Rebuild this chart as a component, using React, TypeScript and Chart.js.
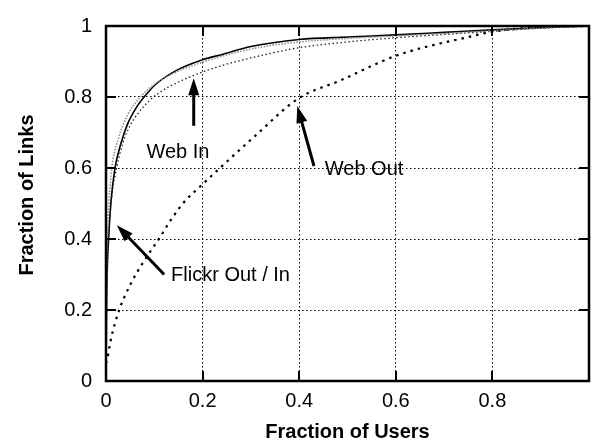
import React, { useEffect, useRef } from "react";
import { Chart, registerables } from "chart.js";

Chart.register(...registerables);

// ---- data ----
const flickrOutX = [0, 0.001, 0.003, 0.005, 0.01, 0.018, 0.03, 0.045, 0.065, 0.085, 0.105, 0.146, 0.2, 0.241, 0.3, 0.4, 0.5, 0.6, 0.7, 0.8, 0.9, 1];
const flickrOutY = [0, 0.2, 0.33, 0.39, 0.5, 0.595, 0.665, 0.725, 0.775, 0.81, 0.838, 0.875, 0.905, 0.92, 0.942, 0.962, 0.969, 0.975, 0.982, 0.989, 0.995, 1];

const flickrInX = [0, 0.001, 0.003, 0.006, 0.012, 0.025, 0.045, 0.065, 0.09, 0.13, 0.2, 0.3, 0.4, 0.5, 0.6, 0.7, 0.8, 0.9, 1];
const flickrInY = [0, 0.25, 0.4, 0.5, 0.6, 0.68, 0.75, 0.79, 0.825, 0.86, 0.898, 0.935, 0.955, 0.965, 0.972, 0.979, 0.987, 0.994, 1];

const webInX = [0, 0.002, 0.006, 0.012, 0.022, 0.035, 0.05, 0.07, 0.09, 0.11, 0.132, 0.18, 0.241, 0.3, 0.4, 0.5, 0.6, 0.7, 0.8, 0.9, 1];
const webInY = [0, 0.28, 0.42, 0.52, 0.6, 0.67, 0.72, 0.76, 0.79, 0.812, 0.83, 0.86, 0.889, 0.91, 0.939, 0.955, 0.967, 0.976, 0.985, 0.994, 1];

const webOutX = [0, 0.003, 0.0096, 0.0265, 0.0537, 0.0912, 0.108, 0.135, 0.161, 0.195, 0.236, 0.3076, 0.3994, 0.4843, 0.6, 0.7565, 0.8, 0.9, 1];
const webOutY = [0.05, 0.064, 0.114, 0.197, 0.28, 0.364, 0.397, 0.455, 0.503, 0.548, 0.6, 0.689, 0.797, 0.846, 0.916, 0.971, 0.984, 0.997, 1];

const xTickValues = [0, 0.2, 0.4, 0.6, 0.8];
const yTickValues = [0, 0.2, 0.4, 0.6, 0.8, 1];

const xTitle = "Fraction of Users";
const yTitle = "Fraction of Links";

const annotationLabels = ["Web In", "Web Out", "Flickr Out / In"];
const labelX = [0.0837, 0.453, 0.1347];
const labelY = [0.628, 0.5806, 0.2806];
const arrowFromX = [0.1816, 0.4306, 0.1204];
const arrowFromY = [0.719, 0.6056, 0.3];
const arrowToX = [0.1816, 0.396, 0.0224];
const arrowToY = [0.853, 0.775, 0.439];

const FONT = "'Liberation Sans', Arial, Helvetica, sans-serif";

const toPoints = (xs: number[], ys: number[]) => xs.map((x, i) => ({ x, y: ys[i] }));

const fmt = (v: number) => {
  const r = Math.round(v * 10) / 10;
  return String(r);
};

const framePlugin = {
  id: "gnuplotFrame",
  afterDatasetsDraw(chart: any) {
    const { ctx, chartArea, scales } = chart;
    const { left, right, top, bottom } = chartArea;
    ctx.save();
    ctx.strokeStyle = "#000";
    ctx.lineWidth = 2;
    const tl = 10;
    ctx.beginPath();
    xTickValues.forEach((v) => {
      if (v <= 0) return;
      const px = Math.round(scales.x.getPixelForValue(v));
      ctx.moveTo(px, bottom);
      ctx.lineTo(px, bottom - tl);
      ctx.moveTo(px, top);
      ctx.lineTo(px, top + tl);
    });
    yTickValues.forEach((v) => {
      if (v <= 0 || v >= 1) return;
      const py = Math.round(scales.y.getPixelForValue(v));
      ctx.moveTo(left, py);
      ctx.lineTo(left + tl, py);
      ctx.moveTo(right, py);
      ctx.lineTo(right - tl, py);
    });
    ctx.stroke();
    ctx.lineWidth = 2.5;
    ctx.strokeRect(left, top, right - left, bottom - top);
    ctx.restore();
  },
};

const annotationPlugin = {
  id: "arrowsAndTitles",
  afterDraw(chart: any) {
    const { ctx, chartArea, scales } = chart;
    const xs = scales.x;
    const ys = scales.y;
    ctx.save();
    ctx.fillStyle = "#000";
    ctx.strokeStyle = "#000";
    // arrows
    for (let i = 0; i < arrowFromX.length; i++) {
      const x1 = xs.getPixelForValue(arrowFromX[i]);
      const y1 = ys.getPixelForValue(arrowFromY[i]);
      const x2 = xs.getPixelForValue(arrowToX[i]);
      const y2 = ys.getPixelForValue(arrowToY[i]);
      const ang = Math.atan2(y2 - y1, x2 - x1);
      const headLen = 17;
      const headHalf = 5.5;
      const bx = x2 - headLen * Math.cos(ang);
      const by = y2 - headLen * Math.sin(ang);
      ctx.lineWidth = 3;
      ctx.beginPath();
      ctx.moveTo(x1, y1);
      ctx.lineTo(bx + 2 * Math.cos(ang), by + 2 * Math.sin(ang));
      ctx.stroke();
      ctx.beginPath();
      ctx.moveTo(x2, y2);
      ctx.lineTo(bx + headHalf * Math.sin(ang), by - headHalf * Math.cos(ang));
      ctx.lineTo(bx - headHalf * Math.sin(ang), by + headHalf * Math.cos(ang));
      ctx.closePath();
      ctx.fill();
    }
    // labels
    ctx.font = `20px ${FONT}`;
    ctx.textAlign = "left";
    ctx.textBaseline = "alphabetic";
    for (let i = 0; i < annotationLabels.length; i++) {
      ctx.fillText(annotationLabels[i], xs.getPixelForValue(labelX[i]), ys.getPixelForValue(labelY[i]));
    }
    // axis titles
    ctx.font = `bold 20px ${FONT}`;
    ctx.textAlign = "center";
    ctx.textBaseline = "alphabetic";
    ctx.fillText(xTitle, (chartArea.left + chartArea.right) / 2, 438);
    ctx.translate(33, 195);
    ctx.rotate(-Math.PI / 2);
    ctx.fillText(yTitle, 0, 0);
    ctx.restore();
  },
};

export default function App() {
  const ref = useRef<HTMLCanvasElement | null>(null);

  useEffect(() => {
    if (!ref.current) return;
    const gridColor = (c: any) => {
      const v = c.tick ? c.tick.value : 0;
      return v <= 1e-9 || v >= 1 - 1e-9 ? "rgba(0,0,0,0)" : "#000";
    };
    const chart = new Chart(ref.current, {
      type: "line",
      data: {
        datasets: [
          {
            label: "Flickr In",
            data: toPoints(flickrInX, flickrInY),
            borderColor: "#8a8a8a",
            borderWidth: 1.5,
            borderDash: [1.5, 1.5],
            pointRadius: 0,
            cubicInterpolationMode: "monotone",
          },
          {
            label: "Web In",
            data: toPoints(webInX, webInY),
            borderColor: "#222",
            borderWidth: 1.3,
            borderDash: [1.5, 2.5],
            pointRadius: 0,
            cubicInterpolationMode: "monotone",
          },
          {
            label: "Web Out",
            data: toPoints(webOutX, webOutY),
            borderColor: "#000",
            borderWidth: 2.2,
            borderDash: [2.5, 5],
            pointRadius: 0,
            cubicInterpolationMode: "monotone",
          },
          {
            label: "Flickr Out",
            data: toPoints(flickrOutX, flickrOutY),
            borderColor: "#000",
            borderWidth: 1.6,
            pointRadius: 0,
            cubicInterpolationMode: "monotone",
          },
        ],
      },
      options: {
        responsive: false,
        animation: false,
        devicePixelRatio: 1,
        layout: { padding: { top: 21, right: 1, left: 0, bottom: 0 } },
        plugins: {
          legend: { display: false },
          tooltip: { enabled: false },
        },
        scales: {
          x: {
            type: "linear",
            min: 0,
            max: 1,
            afterFit: (s: any) => {
              s.height = 59;
            },
            afterBuildTicks: (s: any) => {
              s.ticks = [...xTickValues, 1].map((v) => ({ value: v }));
            },
            ticks: {
              color: "#000",
              font: { family: FONT, size: 20 },
              padding: 8,
              maxRotation: 0,
              autoSkip: false,
              callback: (v: any) => (Number(v) >= 1 ? "" : fmt(Number(v))),
            },
            grid: { color: gridColor, lineWidth: 1, drawTicks: false },
            border: { display: false, dash: [1.5, 2.5] },
          },
          y: {
            type: "linear",
            min: 0,
            max: 1,
            afterFit: (s: any) => {
              s.width = 106;
            },
            afterBuildTicks: (s: any) => {
              s.ticks = yTickValues.map((v) => ({ value: v }));
            },
            ticks: {
              color: "#000",
              font: { family: FONT, size: 20 },
              padding: 14,
              autoSkip: false,
              callback: (v: any) => fmt(Number(v)),
            },
            grid: { color: gridColor, lineWidth: 1, drawTicks: false },
            border: { display: false, dash: [1.5, 2.5] },
          },
        },
      },
      plugins: [framePlugin, annotationPlugin],
    } as any);
    return () => chart.destroy();
  }, []);

  return (
    <div style={{ position: "absolute", left: 0, top: 0, width: 597, height: 440, background: "#fff" }}>
      <canvas ref={ref} width={597} height={440} style={{ display: "block" }} />
    </div>
  );
}
